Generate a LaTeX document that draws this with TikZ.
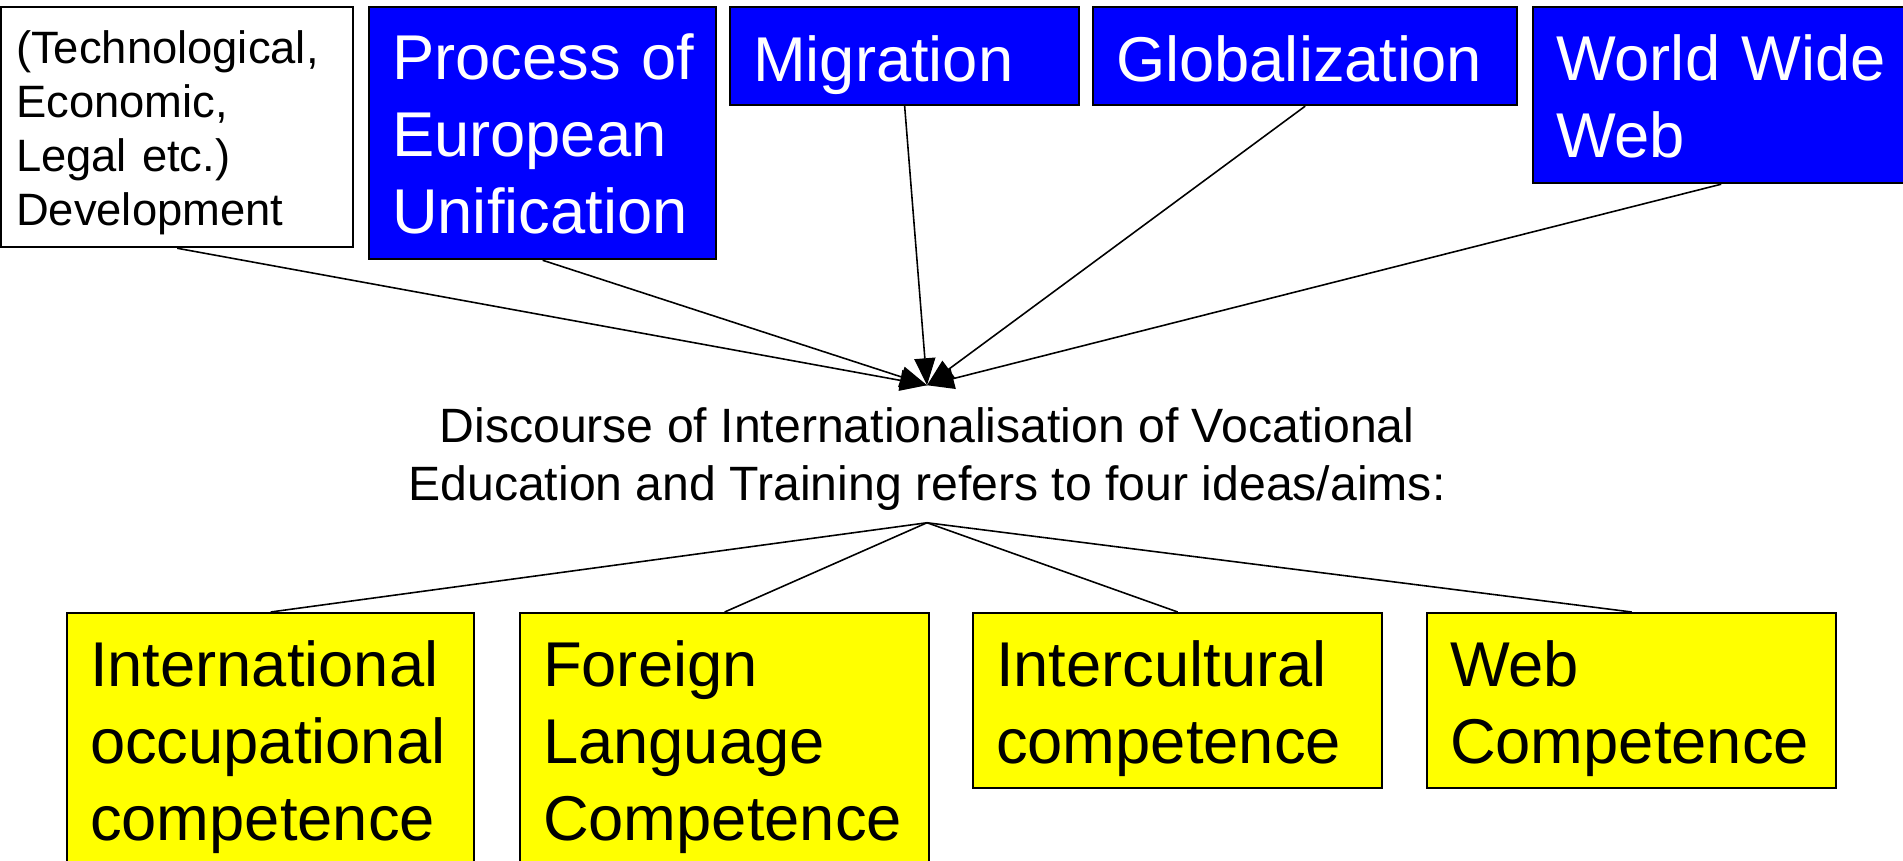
\documentclass[tikz,border=0pt]{standalone}
\usepackage{fontspec}
\setmainfont{Liberation Sans}
\usetikzlibrary{arrows.meta}
\definecolor{causeblue}{RGB}{0,0,255}
\definecolor{aimyellow}{RGB}{255,255,0}
\hyphenpenalty=10000

\begin{document}
\begin{tikzpicture}[x=0.01cm,y=-0.01cm,
  box/.style={draw,line width=0.6pt,anchor=north west,align=left,inner xsep=0.23cm,inner ysep=0pt},
  cause/.style={box,fill=causeblue,text=white,text height=0.5cm,font=\fontsize{18}{21.9}\selectfont},
  aim/.style={box,fill=aimyellow,text height=0.61cm,font=\fontsize{18}{21.9}\selectfont},
  arr/.style={-{Triangle[length=0.27cm,width=0.21cm]},line width=0.45pt}]
\useasboundingbox (0,0) rectangle (1903,861);

% what drives it
\node[box,fill=white,inner xsep=0.15cm,text width=3.22cm,text height=0.44cm,minimum height=2.4cm,font=\fontsize{12.9}{15.4}\selectfont] (1) at (0,6) {(Technological,\\Economic,\\Legal etc.)\\Development};
\node[cause,text width=3.01cm,text height=0.47cm,minimum height=2.52cm] (2) at (368,6) {Process~of\\European\\Unification};
\node[cause,text width=3.03cm,text depth=0pt,minimum height=0.98cm] (3) at (729,6) {Migration};
\node[cause,text width=3.78cm,text depth=0pt,minimum height=0.98cm] (4) at (1092,6) {Globalization};
\node[cause,text width=3.30cm,text height=0.49cm,minimum height=1.76cm] (5) at (1532,6) {World~Wide\\Web};

\node[align=center,inner sep=0pt,text depth=0pt,minimum height=1.36cm,font=\fontsize{13.7}{16.5}\selectfont] (6) at (927,454) {Discourse of Internationalisation of Vocational\\Education and Training refers to four ideas/aims:};

% the four aims
\node[aim,text width=3.61cm,minimum height=2.52cm] (7) at (66,612) {International\\occupational\\competence};
\node[aim,text width=3.63cm,minimum height=2.52cm] (8) at (519,612) {Foreign\\Language\\Competence};
\node[aim,text width=3.63cm,minimum height=1.75cm] (9) at (972,612) {Intercultural\\competence};
\node[aim,text width=3.63cm,minimum height=1.75cm] (10) at (1426,612) {Web\\Competence};

\draw[arr] (1.south) -- (6.north);
\draw[arr] (2.south) -- (6.north);
\draw[arr] (3.south) -- (6.north);
\draw[arr] (4.south) -- (6.north);
\draw[arr] (5.south) -- (6.north);

\draw[line width=0.45pt] (6.south) -- (7.north);
\draw[line width=0.45pt] (6.south) -- (8.north);
\draw[line width=0.45pt] (6.south) -- (9.north);
\draw[line width=0.45pt] (6.south) -- (10.north);

\end{tikzpicture}
\end{document}
